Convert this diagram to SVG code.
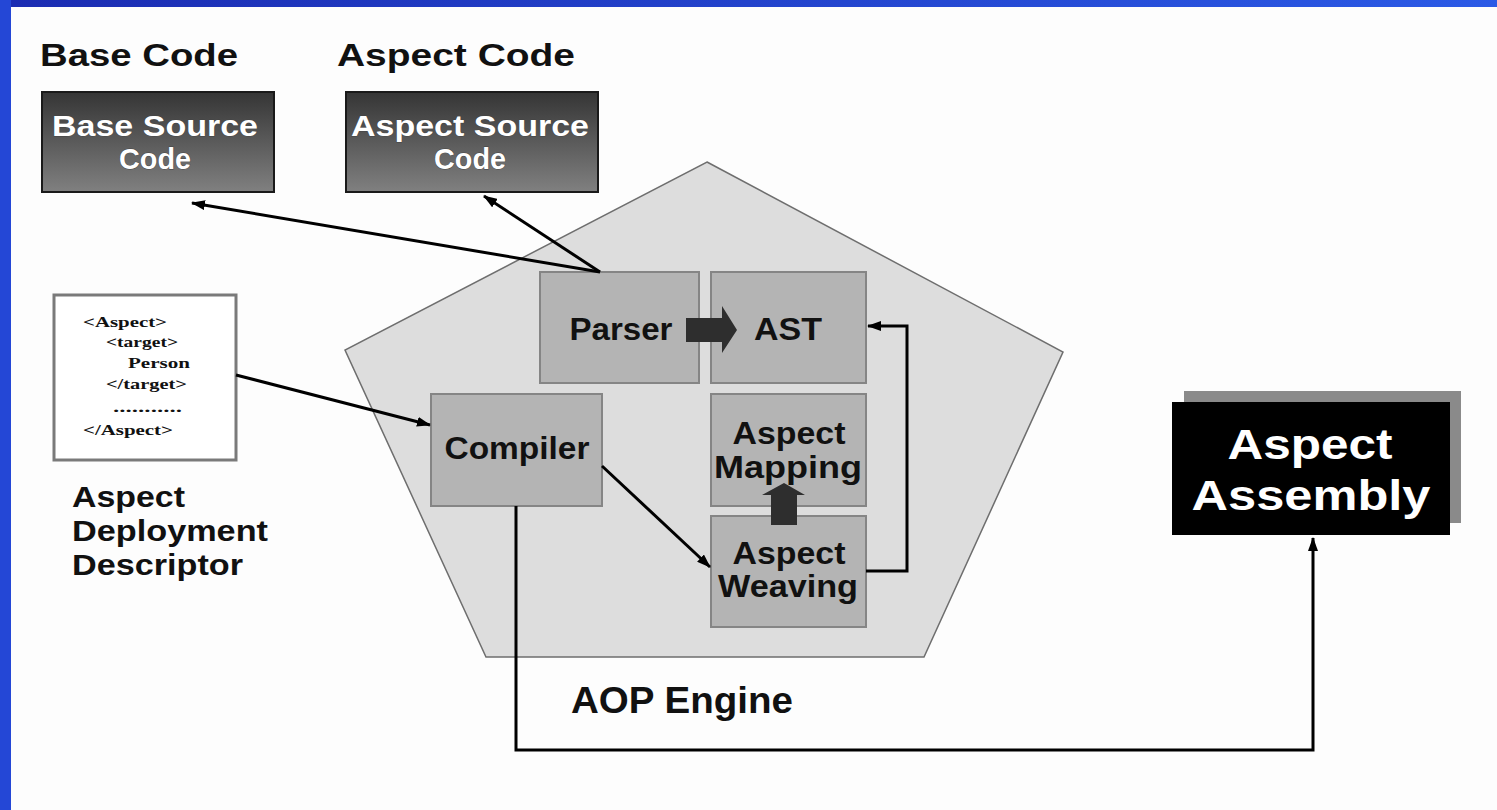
<svg xmlns="http://www.w3.org/2000/svg" width="1497" height="810" viewBox="0 0 1497 810">
<defs>
<linearGradient id="blueTop" x1="0" y1="0" x2="1" y2="0"><stop offset="0" stop-color="#1b2cb2"/><stop offset="1" stop-color="#2b5ae6"/></linearGradient>
<linearGradient id="dark" x1="0" y1="0" x2="0" y2="1"><stop offset="0" stop-color="#353535"/><stop offset="1" stop-color="#808080"/></linearGradient>
<marker id="ah" markerUnits="userSpaceOnUse" markerWidth="14" markerHeight="10" refX="13" refY="5" orient="auto"><path d="M0,0 L14,5 L0,10 z" fill="#000"/></marker>
<style>
.t{font-family:"Liberation Sans",Arial,sans-serif;font-weight:bold}
.inner{fill:#b4b4b4;stroke:#858585;stroke-width:2}
.src{fill:url(#dark);stroke:#1a1a1a;stroke-width:2}
.wt{fill:#fff;font-size:30px;text-anchor:middle;stroke:#444;stroke-width:0.8;paint-order:stroke}
.bt{fill:#111;font-size:31px;text-anchor:middle}
.con{fill:none;stroke:#000;stroke-width:3}
.xml{font-family:"Liberation Serif","Times New Roman",serif;font-weight:bold;font-size:15px;fill:#111}
</style>
</defs>
<rect x="0" y="0" width="1497" height="810" fill="#fdfdfd"/>
<rect x="0" y="0" width="1497" height="7" fill="url(#blueTop)"/>
<rect x="0" y="0" width="11" height="810" fill="#2447d6"/>

<g id="engine">
<polygon points="707,162 1063,352 924,657 486,657 345,350" fill="#dddddd" stroke="#6e6e6e" stroke-width="1.5"/>
<text class="t" x="571" y="713" font-size="36" textLength="222" lengthAdjust="spacingAndGlyphs" fill="#111">AOP Engine</text>
</g>

<g id="base-title"><text class="t" x="40" y="66" font-size="32" textLength="198" lengthAdjust="spacingAndGlyphs" fill="#111">Base Code</text></g>
<g id="aspect-title"><text class="t" x="337" y="66" font-size="32" textLength="238" lengthAdjust="spacingAndGlyphs" fill="#111">Aspect Code</text></g>

<g id="base-source">
<rect x="42" y="92" width="232" height="100" class="src"/>
<text class="t wt" x="155" y="136" textLength="206" lengthAdjust="spacingAndGlyphs">Base Source</text>
<text class="t wt" x="155" y="169" textLength="72" lengthAdjust="spacingAndGlyphs">Code</text>
</g>
<g id="aspect-source">
<rect x="346" y="92" width="252" height="100" class="src"/>
<text class="t wt" x="470" y="136" textLength="238" lengthAdjust="spacingAndGlyphs">Aspect Source</text>
<text class="t wt" x="470" y="169" textLength="72" lengthAdjust="spacingAndGlyphs">Code</text>
</g>

<g id="descriptor">
<rect x="54" y="295" width="182" height="165" fill="#fff" stroke="#7a7a7a" stroke-width="3"/>
<text class="xml" x="83" y="327" textLength="84" lengthAdjust="spacingAndGlyphs">&lt;Aspect&gt;</text>
<text class="xml" x="106" y="347" textLength="72" lengthAdjust="spacingAndGlyphs">&lt;target&gt;</text>
<text class="xml" x="128" y="368" textLength="62" lengthAdjust="spacingAndGlyphs">Person</text>
<text class="xml" x="106" y="389" textLength="81" lengthAdjust="spacingAndGlyphs">&lt;/target&gt;</text>
<text class="xml" x="113" y="412" fill="#777" textLength="69" lengthAdjust="spacingAndGlyphs">...........</text>
<text class="xml" x="83" y="435" textLength="90" lengthAdjust="spacingAndGlyphs">&lt;/Aspect&gt;</text>
<text class="t" x="72" y="507" font-size="30" textLength="113" lengthAdjust="spacingAndGlyphs" fill="#111">Aspect</text>
<text class="t" x="72" y="541" font-size="30" textLength="196" lengthAdjust="spacingAndGlyphs" fill="#111">Deployment</text>
<text class="t" x="72" y="575" font-size="30" textLength="171" lengthAdjust="spacingAndGlyphs" fill="#111">Descriptor</text>
</g>

<g id="parser">
<rect x="540" y="272" width="159" height="111" class="inner"/>
<text class="t bt" x="621" y="340" textLength="103" lengthAdjust="spacingAndGlyphs">Parser</text>
</g>
<g id="ast">
<rect x="711" y="272" width="155" height="111" class="inner"/>
<text class="t bt" x="788" y="340" textLength="68" lengthAdjust="spacingAndGlyphs">AST</text>
</g>
<g id="compiler">
<rect x="431" y="394" width="171" height="112" class="inner"/>
<text class="t bt" x="517" y="459" textLength="145" lengthAdjust="spacingAndGlyphs">Compiler</text>
</g>
<g id="mapping">
<rect x="711" y="394" width="155" height="112" class="inner"/>
<text class="t bt" x="789" y="444" textLength="113" lengthAdjust="spacingAndGlyphs">Aspect</text>
<text class="t bt" x="788" y="478" textLength="148" lengthAdjust="spacingAndGlyphs">Mapping</text>
</g>
<g id="weaving">
<rect x="711" y="516" width="155" height="111" class="inner"/>
<text class="t bt" x="789" y="564" textLength="113" lengthAdjust="spacingAndGlyphs">Aspect</text>
<text class="t bt" x="788" y="597" textLength="140" lengthAdjust="spacingAndGlyphs">Weaving</text>
</g>

<g id="assembly">
<rect x="1184" y="391" width="277" height="132" fill="#8a8a8a"/>
<rect x="1172" y="402" width="278" height="133" fill="#000"/>
<text class="t" x="1310" y="459" font-size="42" text-anchor="middle" textLength="165" lengthAdjust="spacingAndGlyphs" fill="#fff">Aspect</text>
<text class="t" x="1311" y="510" font-size="42" text-anchor="middle" textLength="239" lengthAdjust="spacingAndGlyphs" fill="#fff">Assembly</text>
</g>

<g id="connectors">
<path class="con" d="M600,272 L192,203" marker-end="url(#ah)"/>
<path class="con" d="M600,272 L484,196" marker-end="url(#ah)"/>
<path class="con" d="M236,375 L430,425" marker-end="url(#ah)"/>
<path class="con" d="M602,466 L710,567" marker-end="url(#ah)"/>
<path class="con" d="M866,571 H907 V326 H868" marker-end="url(#ah)"/>
<path class="con" d="M516,506 V750 H1313 V538" stroke-width="3.5" marker-end="url(#ah)"/>
<polygon points="686,318 722,318 722,306 737,330 722,353 722,342 686,342" fill="#2e2e2e"/>
<polygon points="771,525 797,525 797,495 805,495 784,483 762,495 771,495" fill="#2e2e2e"/>
</g>
</svg>
